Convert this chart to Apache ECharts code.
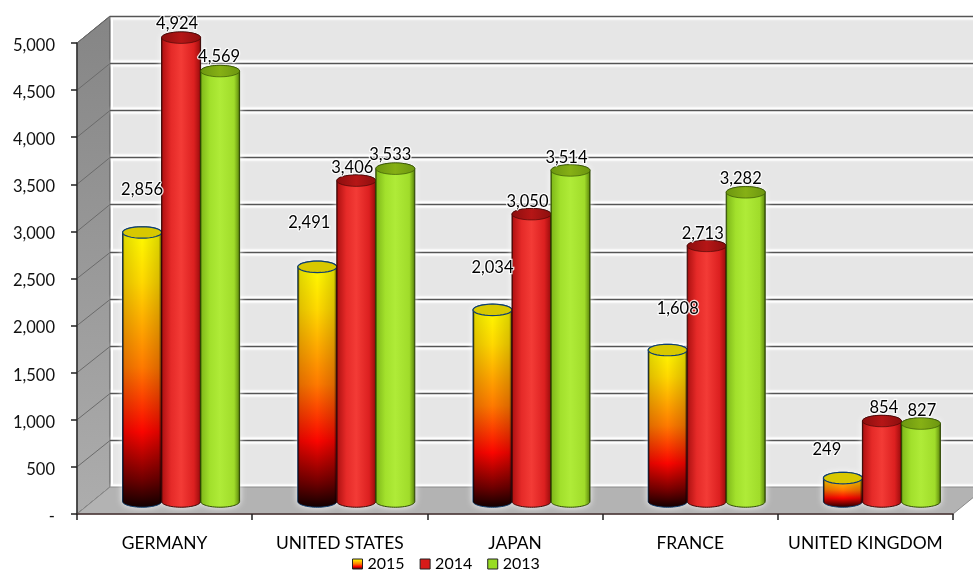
<!DOCTYPE html>
<html>
<head>
<meta charset="utf-8">
<style>html,body{margin:0;padding:0;background:#fff}#chart{width:973px;height:571px}</style>
<script src="https://cdn.jsdelivr.net/npm/echarts@6/dist/echarts.min.js"></script>
</head>
<body>
<div id="chart"></div>
<script>
// Chart data
const categories = ['GERMANY', 'UNITED STATES', 'JAPAN', 'FRANCE', 'UNITED KINGDOM'];
const years = ['2015', '2014', '2013'];
const values2015 = [2856, 2491, 2034, 1608, 249];
const values2014 = [4924, 3406, 3050, 2713, 854];
const values2013 = [4569, 3533, 3514, 3282, 827];
const yTicks = [0, 500, 1000, 1500, 2000, 2500, 3000, 3500, 4000, 4500, 5000];

// Fake 3D projection and label placement
const DEPTH_X = 33, DEPTH_Y = 27, BAR_LIFT = 12.5, BAR_BAND = 0.2226, BAR_SHIFT = 16.5;
const labelShift = [
  [[0, -43], [-8, -44], [0, -42], [10, -41], [-16, -28]],
  [[-4, -14], [-4, -13], [-4, -13], [-4, -12], [2, -13]],
  [[-1, -14], [-5, -14], [-4, -13], [-5, -14], [1, -13]]
];
const TEXT_FONT = '16.5px Lato';

const linear = (x, y, x2, y2, stops) => ({
  type: 'linear', x, y, x2, y2,
  colorStops: stops.map(([offset, color]) => ({ offset, color }))
});

const fire = linear(0, 0, 0, 1, [[0, '#ffff00'], [0.2, '#ffd800'], [0.5, '#ff7a00'], [0.73, '#fb0500'], [0.9, '#700000'], [1, '#100000']]);
const barStyles = [
  { body: fire,
    sheen: linear(0, 0, 1, 0, [[0, 'rgba(0,0,0,.8)'], [0.05, 'rgba(0,0,0,.12)'], [0.5, 'rgba(0,0,0,0)'], [0.93, 'rgba(0,0,0,.14)'], [1, 'rgba(0,0,0,.75)']]),
    top: '#d8c800', edge: '#0f3f70', legend: fire },
  { body: linear(0, 0, 1, 0, [[0, '#3d0604'], [0.05, '#b51414'], [0.25, '#e52a28'], [0.5, '#f33b36'], [0.82, '#dc2020'], [0.95, '#a81010'], [1, '#3a0503']]),
    top: linear(0, 0, 1, 0, [[0, '#8c0e0e'], [0.5, '#b51616'], [1, '#8c0e0e']]), edge: '#3a0503', legend: '#d81a18' },
  { body: linear(0, 0, 1, 0, [[0, '#2e4800'], [0.05, '#83bd1c'], [0.25, '#a2e02c'], [0.5, '#afeb38'], [0.85, '#a0dc2a'], [0.95, '#6f9e14'], [1, '#263c00']]),
    top: linear(0, 0, 1, 0, [[0, '#6c9610'], [0.5, '#86b015'], [1, '#6c9610']]), edge: '#2e4800', legend: '#98dc22' }
];

// Geometry of one cylinder, derived from the axis scales
function cylinder(api, seriesIndex) {
  const cat = api.value(0);
  const band = api.size([1, 0])[0];
  const width = band * BAR_BAND;
  const at = api.coord([cat, api.value(1)]);
  const base = api.coord([cat, 0]);
  return {
    cx: at[0] + BAR_SHIFT + (seriesIndex - 1) * width,
    top: at[1] - BAR_LIFT,
    bottom: base[1] - BAR_LIFT,
    rx: width / 2,
    ry: width / 6.8
  };
}

function ellipsePoints(c, y, from, to) {
  const pts = [];
  for (let i = 0; i <= 32; i++) {
    const t = from + (to - from) * i / 32;
    pts.push([c.cx + c.rx * Math.cos(t), y + c.ry * Math.sin(t)]);
  }
  return pts;
}

// Outline: lower rim left to right, then upper rim back right to left
function silhouette(c) {
  return ellipsePoints(c, c.bottom, Math.PI, 0)
    .concat(ellipsePoints(c, c.top, 0, -Math.PI));
}

const toPoints = arr => arr.map((v, i) => [i, v]);

function wallItem(params, api) {
  const band = api.size([1, 0])[0];
  const zero = api.coord([0, 0]);
  const max = api.coord([0, 5000]);
  const x0 = zero[0] - band / 2;
  const x1 = x0 + band * categories.length;
  const bx0 = x0 + DEPTH_X, bx1 = x1 + DEPTH_X;
  return {
    type: 'group',
    children: [
      { type: 'rect', shape: { x: bx0, y: max[1] - DEPTH_Y, width: bx1 - bx0, height: zero[1] - max[1] }, style: { fill: '#e6e6e6' } },
      { type: 'line', shape: { x1: bx0 + 1.5, y1: max[1] - DEPTH_Y, x2: bx0 + 1.5, y2: zero[1] - DEPTH_Y }, style: { stroke: '#fff', lineWidth: 3 } },
      { type: 'polygon', shape: { points: [[x0, max[1]], [bx0, max[1] - DEPTH_Y], [bx0, zero[1] - DEPTH_Y], [x0, zero[1]]] },
        style: { fill: linear(0, 0, 0, 1, [[0, '#858585'], [1, '#adadad']]), stroke: '#555', lineWidth: 1 } }
    ]
  };
}

function floorItem(params, api) {
  const band = api.size([1, 0])[0];
  const zero = api.coord([0, 0]);
  const x0 = zero[0] - band / 2;
  const x1 = x0 + band * categories.length;
  return { type: 'polygon',
    shape: { points: [[x0, zero[1]], [x1, zero[1]], [x1 + DEPTH_X, zero[1] - DEPTH_Y], [x0 + DEPTH_X, zero[1] - DEPTH_Y]] },
    style: { fill: '#b3b3b3', stroke: '#8a8a8a', lineWidth: 1 } };
}

function gridItem(params, api) {
  const band = api.size([1, 0])[0];
  const p = api.coord([0, api.value(1)]);
  const x0 = p[0] - band / 2;
  const bx0 = x0 + DEPTH_X;
  const bx1 = x0 + band * categories.length + DEPTH_X;
  const y = Math.round(p[1] - DEPTH_Y) + 0.5;
  const children = [
    { type: 'line', shape: { x1: bx0 + 1, y1: y, x2: bx1, y2: y }, style: { stroke: '#fff', lineWidth: 6, opacity: 0.85, shadowColor: '#fff', shadowBlur: 3 } },
    { type: 'line', shape: { x1: x0, y1: p[1], x2: bx0, y2: y }, style: { stroke: '#6b6b6b', lineWidth: 1 } }
  ];
  if (api.value(1) !== 0) {
    children.push({ type: 'line', shape: { x1: bx0, y1: y, x2: bx1, y2: y }, style: { stroke: '#555', lineWidth: 1.6 } });
  }
  return { type: 'group', children };
}

const haloItem = seriesIndex => (params, api) => {
  const c = cylinder(api, seriesIndex);
  return { type: 'polygon', shape: { points: silhouette(c) },
    style: { fill: '#fff', shadowColor: '#fff', shadowBlur: 7 } };
};

const barItem = seriesIndex => (params, api) => {
  const c = cylinder(api, seriesIndex);
  const s = barStyles[seriesIndex];
  const outline = silhouette(c);
  const children = [
    { type: 'polygon', shape: { points: outline }, style: { fill: s.body, stroke: s.edge, lineWidth: 1 } }
  ];
  if (s.sheen) {
    children.push({ type: 'polygon', shape: { points: outline }, style: { fill: s.sheen } });
  }
  children.push({ type: 'polygon', shape: { points: ellipsePoints(c, c.top, 0, Math.PI * 2) },
    style: { fill: s.top, stroke: s.edge, lineWidth: seriesIndex === 0 ? 1.2 : 0.6 } });
  return { type: 'group', children };
};

const labelItem = seriesIndex => (params, api) => {
  const c = cylinder(api, seriesIndex);
  const shift = labelShift[seriesIndex][params.dataIndex];
  return {
    type: 'text',
    style: {
      x: c.cx + shift[0], y: c.top + shift[1],
      text: api.value(1).toLocaleString('en-US'),
      font: TEXT_FONT, fill: '#000', align: 'center', verticalAlign: 'middle',
      stroke: 'rgba(255,255,255,.85)', lineWidth: 2.5
    }
  };
};

const seriesValues = [values2015, values2014, values2013];
const plain = (z, renderItem, data) => ({ type: 'custom', z, silent: true, renderItem, data, clip: false });

const chart = echarts.init(document.getElementById('chart'), null, { renderer: 'canvas' });
chart.setOption({
  animation: false,
  backgroundColor: '#fff',
  grid: { left: 77, right: 20, top: 43, bottom: 57 },
  legend: {
    left: 347, top: 551, itemWidth: 10, itemHeight: 10, itemGap: 15, selectedMode: false,
    textStyle: { fontFamily: 'Lato', fontSize: 16, color: '#000' },
    data: years.map((name, i) => ({
      name, icon: 'rect',
      itemStyle: { color: barStyles[i].legend, borderColor: '#222', borderWidth: 1 }
    }))
  },
  xAxis: {
    type: 'category', data: categories, z: 5,
    axisLine: { lineStyle: { color: '#4a3434', width: 1.5 } },
    axisTick: { show: true, length: 6, lineStyle: { color: '#222', width: 1.5 } },
    axisLabel: { margin: 21, fontFamily: 'Lato', fontSize: 17.4, color: '#000', interval: 0 }
  },
  yAxis: {
    type: 'value', min: 0, max: 5000, interval: 500, z: 5,
    splitLine: { show: false },
    axisLine: { show: true, lineStyle: { color: '#333', width: 1.5 } },
    axisTick: { show: true, length: 6, lineStyle: { color: '#222', width: 1.5 } },
    axisLabel: {
      margin: 22, color: '#111',
      formatter: v => '{t|' + (v === 0 ? '-' : v.toLocaleString('en-US')) + '}',
      rich: { t: { fontFamily: 'Lato', fontSize: 16.5, color: '#111', padding: [5, 0, 0, 0] } }
    }
  },
  series: [
    plain(1, wallItem, [[0, 0]]),
    plain(2, gridItem, yTicks.map(v => [0, v])),
    plain(3, floorItem, [[0, 0]]),
    ...years.map((y, i) => plain(4, haloItem(i), toPoints(seriesValues[i]))),
    ...years.map((name, i) => ({ ...plain(6 + i, barItem(i), toPoints(seriesValues[i])), name })),
    ...years.map((y, i) => plain(10, labelItem(i), toPoints(seriesValues[i])))
  ]
});
</script>
</body>
</html>
